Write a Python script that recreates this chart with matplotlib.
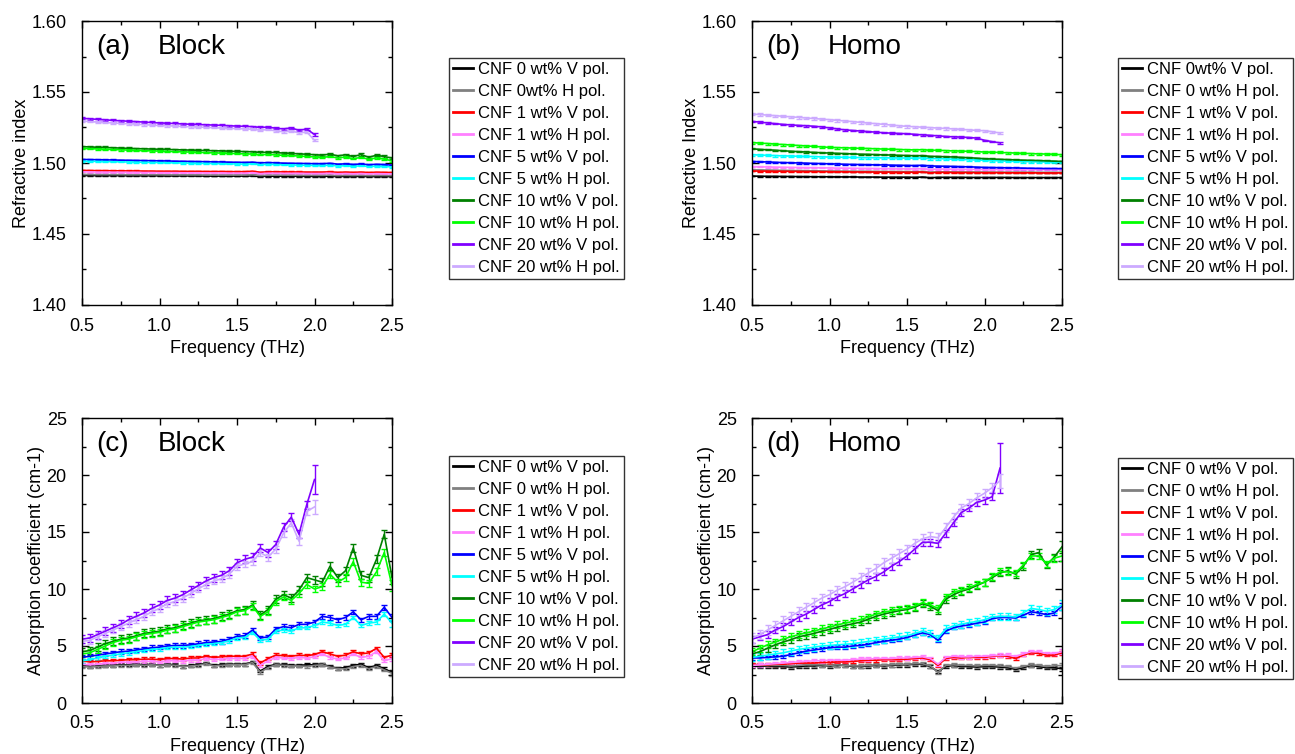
import matplotlib
matplotlib.use('Agg')
import matplotlib.pyplot as plt
from matplotlib.ticker import MultipleLocator, FormatStrFormatter

plt.rcParams['font.family'] = ['Liberation Sans', 'DejaVu Sans']

# %% data

freq = [0.50, 0.55, 0.60, 0.65, 0.70, 0.75, 0.80, 0.85, 0.90, 0.95,
        1.00, 1.05, 1.10, 1.15, 1.20, 1.25, 1.30, 1.35, 1.40, 1.45,
        1.50, 1.55, 1.60, 1.65, 1.70, 1.75, 1.80, 1.85, 1.90, 1.95,
        2.00, 2.05, 2.10, 2.15, 2.20, 2.25, 2.30, 2.35, 2.40, 2.45, 2.50]

colors = ['#000000', '#808080', '#ff0000', '#ff80ff', '#0000ff',
          '#00ffff', '#008000', '#00ff00', '#8000ff', '#ccaaff']

labels_a = ['CNF 0 wt% V pol.', 'CNF 0wt% H pol.', 'CNF 1 wt% V pol.', 'CNF 1 wt% H pol.',
            'CNF 5 wt% V pol.', 'CNF 5 wt% H pol.', 'CNF 10 wt% V pol.', 'CNF 10 wt% H pol.',
            'CNF 20 wt% V pol.', 'CNF 20 wt% H pol.']
labels_b = ['CNF 0wt% V pol.', 'CNF 0 wt% H pol.', 'CNF 1 wt% V pol.', 'CNF 1 wt% H pol.',
            'CNF 5 wt% V pol.', 'CNF 5 wt% H pol.', 'CNF 10 wt% V pol.', 'CNF 10 wt% H pol.',
            'CNF 20 wt% V pol.', 'CNF 20 wt% H pol.']
labels_cd = ['CNF 0 wt% V pol.', 'CNF 0 wt% H pol.', 'CNF 1 wt% V pol.', 'CNF 1 wt% H pol.',
             'CNF 5 wt% V pol.', 'CNF 5 wt% H pol.', 'CNF 10 wt% V pol.', 'CNF 10 wt% H pol.',
             'CNF 20 wt% V pol.', 'CNF 20 wt% H pol.']

# refractive index, block samples
n_blk_0V = [1.4912, 1.4912, 1.4911, 1.4911, 1.4911, 1.4911, 1.4910, 1.4910, 1.4910, 1.4910, 1.4910, 1.4909, 1.4909, 1.4909, 1.4909, 1.4909, 1.4908, 1.4908, 1.4908, 1.4908, 1.4908, 1.4908, 1.4909, 1.4905, 1.4907, 1.4907, 1.4907, 1.4907, 1.4906, 1.4906, 1.4906, 1.4906, 1.4907, 1.4904, 1.4906, 1.4905, 1.4906, 1.4904, 1.4905, 1.4905, 1.4904]
n_blk_0H = [1.4919, 1.4919, 1.4918, 1.4918, 1.4918, 1.4918, 1.4917, 1.4917, 1.4917, 1.4917, 1.4917, 1.4916, 1.4916, 1.4916, 1.4916, 1.4916, 1.4915, 1.4915, 1.4915, 1.4915, 1.4915, 1.4915, 1.4917, 1.4912, 1.4914, 1.4914, 1.4914, 1.4914, 1.4913, 1.4913, 1.4913, 1.4913, 1.4914, 1.4911, 1.4913, 1.4912, 1.4913, 1.4911, 1.4912, 1.4912, 1.4911]
n_blk_1V = [1.4948, 1.4947, 1.4946, 1.4946, 1.4945, 1.4945, 1.4944, 1.4944, 1.4943, 1.4943, 1.4942, 1.4942, 1.4942, 1.4941, 1.4941, 1.4941, 1.4940, 1.4940, 1.4940, 1.4939, 1.4939, 1.4939, 1.4942, 1.4935, 1.4938, 1.4938, 1.4937, 1.4937, 1.4937, 1.4936, 1.4936, 1.4936, 1.4938, 1.4934, 1.4936, 1.4934, 1.4936, 1.4933, 1.4935, 1.4934, 1.4933]
n_blk_1H = [1.4938, 1.4937, 1.4936, 1.4936, 1.4935, 1.4935, 1.4934, 1.4934, 1.4933, 1.4933, 1.4932, 1.4932, 1.4932, 1.4931, 1.4931, 1.4931, 1.4930, 1.4930, 1.4930, 1.4929, 1.4929, 1.4929, 1.4932, 1.4925, 1.4928, 1.4928, 1.4927, 1.4927, 1.4927, 1.4926, 1.4926, 1.4926, 1.4928, 1.4924, 1.4926, 1.4924, 1.4926, 1.4923, 1.4925, 1.4924, 1.4923]
n_blk_5V = [1.5025, 1.5024, 1.5023, 1.5022, 1.5021, 1.5020, 1.5019, 1.5018, 1.5017, 1.5016, 1.5015, 1.5014, 1.5013, 1.5012, 1.5011, 1.5010, 1.5009, 1.5008, 1.5007, 1.5006, 1.5005, 1.5004, 1.5006, 1.5000, 1.5003, 1.5001, 1.4999, 1.4998, 1.4997, 1.4996, 1.4995, 1.4995, 1.4998, 1.4992, 1.4994, 1.4990, 1.4993, 1.4988, 1.4991, 1.4989, 1.4985]
n_blk_5H = [1.5013, 1.5012, 1.5011, 1.5010, 1.5009, 1.5008, 1.5007, 1.5006, 1.5005, 1.5004, 1.5003, 1.5002, 1.5001, 1.5000, 1.4999, 1.4998, 1.4997, 1.4996, 1.4995, 1.4994, 1.4993, 1.4992, 1.4994, 1.4988, 1.4991, 1.4989, 1.4987, 1.4986, 1.4985, 1.4984, 1.4983, 1.4982, 1.4985, 1.4979, 1.4981, 1.4977, 1.4980, 1.4975, 1.4978, 1.4976, 1.4972]
n_blk_10V = [1.5115, 1.5113, 1.5111, 1.5109, 1.5107, 1.5105, 1.5103, 1.5101, 1.5100, 1.5098, 1.5097, 1.5095, 1.5094, 1.5092, 1.5091, 1.5089, 1.5088, 1.5086, 1.5085, 1.5083, 1.5082, 1.5080, 1.5079, 1.5074, 1.5076, 1.5073, 1.5070, 1.5068, 1.5064, 1.5062, 1.5058, 1.5055, 1.5063, 1.5050, 1.5058, 1.5045, 1.5060, 1.5040, 1.5055, 1.5045, 1.5035]
n_blk_10H = [1.5103, 1.5101, 1.5099, 1.5097, 1.5095, 1.5093, 1.5091, 1.5089, 1.5087, 1.5085, 1.5084, 1.5082, 1.5080, 1.5078, 1.5077, 1.5075, 1.5073, 1.5071, 1.5070, 1.5068, 1.5066, 1.5064, 1.5063, 1.5058, 1.5061, 1.5057, 1.5054, 1.5052, 1.5049, 1.5046, 1.5043, 1.5040, 1.5045, 1.5036, 1.5042, 1.5030, 1.5040, 1.5026, 1.5036, 1.5028, 1.5015]
n_blk_20V = [1.5315, 1.5311, 1.5307, 1.5304, 1.5300, 1.5297, 1.5294, 1.5291, 1.5288, 1.5285, 1.5282, 1.5280, 1.5278, 1.5275, 1.5273, 1.5271, 1.5269, 1.5267, 1.5265, 1.5262, 1.5260, 1.5258, 1.5256, 1.5250, 1.5253, 1.5245, 1.5240, 1.5247, 1.5230, 1.5240, 1.5200]
n_blk_20H = [1.5295, 1.5292, 1.5288, 1.5285, 1.5282, 1.5279, 1.5276, 1.5273, 1.5270, 1.5267, 1.5264, 1.5262, 1.5260, 1.5257, 1.5255, 1.5253, 1.5251, 1.5249, 1.5246, 1.5244, 1.5242, 1.5240, 1.5238, 1.5232, 1.5235, 1.5226, 1.5220, 1.5226, 1.5212, 1.5218, 1.5160]
n_blk_err = [0.0003, 0.0003, 0.0004, 0.0004, 0.0004, 0.0004, 0.0008, 0.0005, 0.0008, 0.0006]

# refractive index, homogeneous samples
n_hom_0V = [1.4908, 1.4907, 1.4906, 1.4906, 1.4905, 1.4905, 1.4904, 1.4904, 1.4903, 1.4903, 1.4903, 1.4902, 1.4902, 1.4902, 1.4901, 1.4901, 1.4901, 1.4900, 1.4900, 1.4900, 1.4900, 1.4899, 1.4901, 1.4896, 1.4899, 1.4899, 1.4899, 1.4899, 1.4898, 1.4898, 1.4898, 1.4898, 1.4898, 1.4898, 1.4897, 1.4897, 1.4897, 1.4897, 1.4897, 1.4897, 1.4897]
n_hom_0H = [1.4952, 1.4951, 1.4950, 1.4949, 1.4948, 1.4947, 1.4946, 1.4945, 1.4945, 1.4944, 1.4943, 1.4943, 1.4942, 1.4942, 1.4941, 1.4941, 1.4940, 1.4940, 1.4939, 1.4939, 1.4939, 1.4938, 1.4940, 1.4935, 1.4937, 1.4937, 1.4937, 1.4936, 1.4936, 1.4936, 1.4936, 1.4935, 1.4935, 1.4935, 1.4935, 1.4935, 1.4935, 1.4934, 1.4934, 1.4934, 1.4934]
n_hom_1V = [1.4944, 1.4943, 1.4943, 1.4942, 1.4942, 1.4941, 1.4941, 1.4940, 1.4940, 1.4939, 1.4939, 1.4938, 1.4938, 1.4937, 1.4937, 1.4937, 1.4936, 1.4936, 1.4936, 1.4935, 1.4935, 1.4935, 1.4937, 1.4931, 1.4934, 1.4934, 1.4933, 1.4933, 1.4933, 1.4932, 1.4932, 1.4932, 1.4932, 1.4931, 1.4931, 1.4931, 1.4931, 1.4930, 1.4930, 1.4930, 1.4930]
n_hom_1H = [1.4974, 1.4973, 1.4972, 1.4971, 1.4970, 1.4969, 1.4968, 1.4967, 1.4967, 1.4966, 1.4965, 1.4964, 1.4964, 1.4963, 1.4962, 1.4962, 1.4961, 1.4960, 1.4960, 1.4959, 1.4959, 1.4958, 1.4960, 1.4955, 1.4957, 1.4957, 1.4956, 1.4956, 1.4955, 1.4955, 1.4954, 1.4954, 1.4954, 1.4953, 1.4953, 1.4953, 1.4953, 1.4953, 1.4953, 1.4953, 1.4953]
n_hom_5V = [1.5011, 1.5009, 1.5007, 1.5005, 1.5003, 1.5002, 1.5000, 1.4999, 1.4997, 1.4996, 1.4994, 1.4993, 1.4991, 1.4990, 1.4989, 1.4988, 1.4987, 1.4986, 1.4985, 1.4984, 1.4983, 1.4982, 1.4984, 1.4979, 1.4978, 1.4977, 1.4976, 1.4974, 1.4973, 1.4971, 1.4969, 1.4968, 1.4967, 1.4966, 1.4965, 1.4964, 1.4963, 1.4962, 1.4961, 1.4961, 1.4960]
n_hom_5H = [1.5058, 1.5056, 1.5054, 1.5052, 1.5050, 1.5049, 1.5047, 1.5046, 1.5045, 1.5043, 1.5042, 1.5041, 1.5040, 1.5039, 1.5038, 1.5037, 1.5037, 1.5036, 1.5036, 1.5035, 1.5035, 1.5034, 1.5036, 1.5031, 1.5031, 1.5029, 1.5027, 1.5025, 1.5023, 1.5021, 1.5019, 1.5017, 1.5015, 1.5013, 1.5011, 1.5010, 1.5009, 1.5008, 1.5007, 1.5006, 1.5004]
n_hom_10V = [1.5100, 1.5096, 1.5093, 1.5090, 1.5086, 1.5083, 1.5080, 1.5077, 1.5075, 1.5072, 1.5070, 1.5068, 1.5066, 1.5064, 1.5062, 1.5061, 1.5059, 1.5057, 1.5056, 1.5054, 1.5053, 1.5051, 1.5052, 1.5047, 1.5046, 1.5044, 1.5042, 1.5040, 1.5037, 1.5034, 1.5030, 1.5028, 1.5026, 1.5024, 1.5022, 1.5020, 1.5019, 1.5017, 1.5015, 1.5013, 1.5011]
n_hom_10H = [1.5144, 1.5140, 1.5137, 1.5133, 1.5130, 1.5127, 1.5123, 1.5120, 1.5117, 1.5113, 1.5110, 1.5108, 1.5107, 1.5105, 1.5103, 1.5102, 1.5100, 1.5098, 1.5097, 1.5095, 1.5093, 1.5092, 1.5094, 1.5089, 1.5090, 1.5087, 1.5085, 1.5084, 1.5082, 1.5080, 1.5077, 1.5076, 1.5074, 1.5072, 1.5070, 1.5068, 1.5066, 1.5064, 1.5063, 1.5061, 1.5058]
n_hom_20V = [1.5293, 1.5288, 1.5282, 1.5277, 1.5272, 1.5268, 1.5265, 1.5262, 1.5259, 1.5254, 1.5247, 1.5240, 1.5233, 1.5229, 1.5225, 1.5221, 1.5217, 1.5213, 1.5210, 1.5208, 1.5206, 1.5202, 1.5198, 1.5195, 1.5191, 1.5187, 1.5184, 1.5182, 1.5180, 1.5175, 1.5160, 1.5150, 1.5142]
n_hom_20H = [1.5345, 1.5341, 1.5337, 1.5333, 1.5329, 1.5325, 1.5321, 1.5317, 1.5313, 1.5309, 1.5305, 1.5300, 1.5296, 1.5291, 1.5286, 1.5281, 1.5277, 1.5272, 1.5267, 1.5262, 1.5258, 1.5255, 1.5252, 1.5249, 1.5246, 1.5243, 1.5240, 1.5237, 1.5233, 1.5230, 1.5227, 1.5220, 1.5211]
n_hom_err = [0.0003, 0.0003, 0.0003, 0.0004, 0.0004, 0.0007, 0.0004, 0.0007, 0.0005, 0.0008]

# absorption coefficient (cm-1), block samples
a_blk_0V = [3.3, 3.2, 3.25, 3.3, 3.3, 3.35, 3.35, 3.4, 3.35, 3.4, 3.3, 3.4, 3.35, 3.2, 3.3, 3.35, 3.5, 3.3, 3.35, 3.4, 3.4, 3.4, 3.6, 2.8, 3.2, 3.4, 3.35, 3.3, 3.3, 3.35, 3.35, 3.4, 3.2, 3.05, 3.1, 3.3, 3.4, 3.1, 3.3, 3.0, 2.7]
a_blk_0H = [3.2, 3.15, 3.2, 3.25, 3.25, 3.3, 3.3, 3.35, 3.3, 3.35, 3.3, 3.35, 3.3, 3.2, 3.25, 3.3, 3.45, 3.25, 3.3, 3.35, 3.35, 3.35, 3.55, 2.7, 3.1, 3.35, 3.3, 3.25, 3.25, 3.2, 3.3, 3.35, 3.15, 3.0, 3.0, 3.2, 3.3, 3.0, 3.2, 2.9, 2.6]
a_blk_1V = [3.7, 3.6, 3.65, 3.7, 3.7, 3.75, 3.8, 3.8, 3.85, 3.85, 3.8, 3.9, 3.9, 3.85, 3.95, 3.95, 4.1, 4.0, 4.05, 4.1, 4.1, 4.1, 4.3, 3.5, 3.9, 4.2, 4.15, 4.1, 4.2, 4.15, 4.25, 4.5, 4.3, 4.1, 4.2, 4.5, 4.3, 4.4, 4.8, 4.0, 4.2]
a_blk_1H = [3.4, 3.35, 3.4, 3.45, 3.5, 3.55, 3.6, 3.6, 3.65, 3.65, 3.6, 3.7, 3.7, 3.65, 3.75, 3.75, 3.9, 3.8, 3.85, 3.9, 3.9, 3.9, 4.1, 3.3, 3.7, 4.0, 3.95, 3.9, 4.0, 3.95, 4.05, 4.3, 4.0, 3.85, 3.95, 4.3, 4.0, 4.1, 4.5, 3.7, 3.9]
a_blk_5V = [4.0, 4.1, 4.2, 4.3, 4.4, 4.5, 4.55, 4.65, 4.75, 4.85, 4.9, 5.0, 5.05, 5.05, 5.1, 5.2, 5.3, 5.35, 5.4, 5.6, 5.85, 5.9, 6.4, 5.7, 5.8, 6.5, 6.7, 6.6, 6.9, 6.9, 7.1, 7.6, 7.5, 7.3, 7.5, 8.0, 7.3, 7.6, 7.6, 8.4, 7.5]
a_blk_5H = [3.7, 3.8, 3.95, 4.1, 4.2, 4.3, 4.4, 4.5, 4.6, 4.7, 4.75, 4.85, 4.9, 4.9, 4.95, 5.05, 5.15, 5.2, 5.3, 5.45, 5.7, 5.75, 6.2, 5.5, 5.6, 6.3, 6.4, 6.3, 6.6, 6.6, 6.8, 7.1, 7.0, 6.8, 6.9, 7.5, 6.8, 7.0, 7.1, 7.8, 7.0]
a_blk_10V = [4.5, 4.6, 4.9, 5.2, 5.4, 5.6, 5.7, 5.9, 6.1, 6.2, 6.3, 6.5, 6.6, 6.8, 7.0, 7.2, 7.3, 7.4, 7.6, 7.8, 8.1, 8.2, 8.6, 7.7, 8.2, 9.1, 9.5, 9.2, 9.9, 11.0, 10.8, 10.6, 12.0, 11.0, 11.6, 13.6, 11.2, 11.0, 12.6, 14.8, 11.0]
a_blk_10H = [4.3, 4.4, 4.7, 5.0, 5.3, 5.5, 5.6, 5.8, 6.0, 6.1, 6.2, 6.4, 6.5, 6.7, 6.9, 7.1, 7.2, 7.3, 7.5, 7.7, 8.0, 8.1, 8.5, 7.6, 8.0, 8.9, 9.3, 9.0, 9.6, 10.4, 10.0, 10.2, 11.3, 10.6, 11.0, 12.4, 10.6, 10.5, 11.5, 13.2, 10.3]
a_blk_20V = [5.6, 5.7, 6.0, 6.3, 6.6, 6.9, 7.3, 7.6, 7.9, 8.3, 8.6, 9.0, 9.2, 9.5, 9.9, 10.3, 10.7, 11.0, 11.2, 11.6, 12.3, 12.6, 12.8, 13.6, 13.2, 13.9, 15.4, 16.3, 14.8, 17.4, 19.6]
a_blk_20H = [5.4, 5.5, 5.8, 6.1, 6.4, 6.7, 7.0, 7.3, 7.6, 8.0, 8.3, 8.7, 8.9, 9.2, 9.6, 10.0, 10.4, 10.7, 10.9, 11.3, 12.0, 12.2, 12.4, 13.2, 12.8, 13.5, 14.9, 15.8, 14.2, 16.8, 17.2]
a_blk_err = [0.12, 0.12, 0.15, 0.12, 0.2, 0.15, 0.35, 0.3, 0.35, 0.3]
a_blk_err_end = [0.2, 0.2, 0.2, 0.2, 0.3, 0.3, 0.6, 0.5, 1.3, 0.6]

# absorption coefficient (cm-1), homogeneous samples
a_hom_0V = [3.25, 3.2, 3.25, 3.2, 3.2, 3.15, 3.2, 3.25, 3.25, 3.3, 3.25, 3.3, 3.3, 3.2, 3.2, 3.25, 3.3, 3.25, 3.3, 3.35, 3.35, 3.4, 3.4, 3.2, 2.75, 3.2, 3.3, 3.2, 3.2, 3.15, 3.2, 3.2, 3.15, 3.1, 2.95, 3.1, 3.3, 3.2, 3.1, 3.1, 3.0]
a_hom_0H = [3.35, 3.3, 3.3, 3.3, 3.3, 3.25, 3.3, 3.35, 3.35, 3.35, 3.3, 3.35, 3.3, 3.25, 3.25, 3.3, 3.35, 3.3, 3.35, 3.4, 3.4, 3.45, 3.45, 3.25, 2.7, 3.3, 3.35, 3.3, 3.3, 3.25, 3.3, 3.3, 3.25, 3.2, 3.05, 3.2, 3.35, 3.3, 3.2, 3.25, 3.3]
a_hom_1V = [3.4, 3.35, 3.35, 3.4, 3.4, 3.45, 3.5, 3.5, 3.5, 3.55, 3.55, 3.6, 3.6, 3.65, 3.7, 3.75, 3.75, 3.8, 3.8, 3.8, 3.85, 3.9, 3.95, 3.8, 3.3, 3.9, 4.0, 3.95, 4.0, 4.0, 4.0, 4.1, 4.15, 4.1, 3.9, 4.2, 4.4, 4.35, 4.2, 4.2, 4.4]
a_hom_1H = [3.3, 3.35, 3.4, 3.45, 3.5, 3.55, 3.6, 3.65, 3.7, 3.7, 3.75, 3.75, 3.75, 3.8, 3.85, 3.85, 3.9, 3.9, 3.9, 3.95, 3.95, 4.0, 4.05, 3.9, 3.4, 4.0, 4.1, 4.05, 4.05, 4.1, 4.1, 4.15, 4.2, 4.2, 4.1, 4.3, 4.5, 4.5, 4.35, 4.35, 4.5]
a_hom_5V = [3.95, 3.95, 4.0, 4.05, 4.1, 4.25, 4.4, 4.55, 4.65, 4.75, 4.85, 4.9, 4.9, 5.0, 5.05, 5.15, 5.3, 5.4, 5.5, 5.6, 5.75, 5.95, 6.15, 6.0, 5.5, 6.3, 6.6, 6.75, 6.85, 7.0, 7.1, 7.4, 7.5, 7.5, 7.45, 7.7, 8.0, 7.9, 7.75, 7.9, 8.5]
a_hom_5H = [4.0, 4.1, 4.2, 4.3, 4.4, 4.55, 4.7, 4.8, 4.9, 5.0, 5.05, 5.1, 5.15, 5.2, 5.3, 5.4, 5.5, 5.6, 5.7, 5.8, 5.9, 6.1, 6.3, 6.1, 5.7, 6.5, 6.75, 6.9, 7.05, 7.15, 7.3, 7.55, 7.6, 7.6, 7.55, 7.9, 8.3, 8.2, 8.05, 8.2, 8.6]
a_hom_10V = [4.3, 4.5, 4.8, 5.1, 5.35, 5.55, 5.8, 5.95, 6.1, 6.3, 6.45, 6.65, 6.8, 6.95, 7.1, 7.35, 7.6, 7.8, 7.95, 8.1, 8.2, 8.4, 8.7, 8.5, 8.1, 9.1, 9.5, 9.8, 10.0, 10.3, 10.6, 11.0, 11.4, 11.6, 11.3, 12.0, 13.0, 13.2, 12.1, 12.8, 13.7]
a_hom_10H = [4.5, 4.8, 5.1, 5.35, 5.6, 5.8, 6.0, 6.15, 6.3, 6.5, 6.65, 6.85, 7.0, 7.15, 7.3, 7.55, 7.8, 7.95, 8.1, 8.2, 8.3, 8.5, 8.8, 8.6, 8.3, 9.3, 9.7, 9.9, 10.1, 10.4, 10.6, 11.1, 11.5, 11.5, 11.4, 12.1, 12.9, 12.9, 12.2, 12.7, 12.9]
a_hom_20V = [5.6, 5.8, 6.0, 6.4, 6.7, 7.1, 7.5, 7.8, 8.2, 8.6, 8.9, 9.3, 9.6, 10.0, 10.4, 10.8, 11.1, 11.5, 12.0, 12.4, 12.9, 13.5, 14.1, 14.1, 14.0, 14.9, 15.8, 16.7, 17.1, 17.6, 17.8, 18.1, 20.6]
a_hom_20H = [5.7, 6.0, 6.4, 6.8, 7.2, 7.6, 8.0, 8.4, 8.8, 9.2, 9.5, 9.9, 10.2, 10.6, 11.0, 11.4, 11.8, 12.3, 12.7, 13.1, 13.5, 14.0, 14.4, 14.6, 14.5, 15.4, 16.3, 17.1, 17.5, 18.0, 18.4, 18.9, 19.5]
a_hom_err = [0.15, 0.15, 0.12, 0.15, 0.15, 0.3, 0.3, 0.3, 0.3, 0.4]
a_hom_err_end = [0.2, 0.2, 0.2, 0.2, 0.3, 0.4, 0.5, 0.4, 2.2, 0.6]

n_blk = [n_blk_0V, n_blk_0H, n_blk_1V, n_blk_1H, n_blk_5V, n_blk_5H, n_blk_10V, n_blk_10H, n_blk_20V, n_blk_20H]
n_hom = [n_hom_0V, n_hom_0H, n_hom_1V, n_hom_1H, n_hom_5V, n_hom_5H, n_hom_10V, n_hom_10H, n_hom_20V, n_hom_20H]
a_blk = [a_blk_0V, a_blk_0H, a_blk_1V, a_blk_1H, a_blk_5V, a_blk_5H, a_blk_10V, a_blk_10H, a_blk_20V, a_blk_20H]
a_hom = [a_hom_0V, a_hom_0H, a_hom_1V, a_hom_1H, a_hom_5V, a_hom_5H, a_hom_10V, a_hom_10H, a_hom_20V, a_hom_20H]

# %% figure

W, H = 1295, 754
fig = plt.figure(figsize=(W / 100, H / 100), dpi=100)


def px_axes(x0, y0, x1, y1):
    return fig.add_axes([x0 / W, 1 - y1 / H, (x1 - x0) / W, (y1 - y0) / H])


def style(ax, ylim, ymaj, ymin, ylabel, yfmt):
    ax.set_xlim(0.5, 2.5)
    ax.set_ylim(*ylim)
    ax.xaxis.set_major_locator(MultipleLocator(0.5))
    ax.xaxis.set_minor_locator(MultipleLocator(0.25))
    ax.yaxis.set_major_locator(MultipleLocator(ymaj))
    ax.yaxis.set_minor_locator(MultipleLocator(ymin))
    ax.xaxis.set_major_formatter(FormatStrFormatter('%.1f'))
    ax.yaxis.set_major_formatter(FormatStrFormatter(yfmt))
    ax.tick_params(which='both', direction='in', top=True, right=True, labelsize=13)
    ax.tick_params(axis='x', which='major', pad=9)
    ax.tick_params(axis='y', which='major', pad=11)
    ax.tick_params(which='major', length=5, width=1)
    ax.tick_params(which='minor', length=3, width=1)
    for s in ax.spines.values():
        s.set_linewidth(1)
    ax.set_xlabel('Frequency (THz)', fontsize=13, labelpad=4)
    ax.set_ylabel(ylabel, fontsize=13, labelpad=1)


def draw(ax, series, errs, errs_end, labels):
    for i, y in enumerate(series):
        x = freq[:len(y)]
        if errs_end is None:
            yerr = errs[i]
        else:
            yerr = [errs[i]] * (len(y) - 1) + [errs_end[i]]
        ax.errorbar(x, y, yerr=yerr, color=colors[i], lw=1.2, elinewidth=1,
                    capsize=2.5, capthick=1, label=labels[i])


def legend(ax, x0, y0):
    handles, labs = ax.get_legend_handles_labels()
    handles = [h[0] for h in handles]
    leg = fig.legend(handles, labs, loc='upper left', bbox_to_anchor=(x0 / W, 1 - y0 / H),
                     fontsize=12, frameon=True, fancybox=False, edgecolor='black',
                     handlelength=1.2, handletextpad=0.3, labelspacing=0.42,
                     borderpad=0.25, borderaxespad=0)
    leg.get_frame().set_linewidth(1)
    for line in leg.get_lines():
        line.set_linewidth(2)


def tag(ax, letter, name):
    ax.text(0.045, 0.91, letter, transform=ax.transAxes, fontsize=20, va='center')
    ax.text(0.245, 0.91, name, transform=ax.transAxes, fontsize=20, va='center')


ax_a = px_axes(82, 21, 392, 305)
ax_b = px_axes(752, 21, 1062, 305)
ax_c = px_axes(82, 418, 392, 703)
ax_d = px_axes(752, 418, 1062, 703)

draw(ax_a, n_blk, n_blk_err, None, labels_a)
style(ax_a, (1.40, 1.60), 0.05, 0.025, 'Refractive index', '%.2f')
tag(ax_a, '(a)', 'Block')
legend(ax_a, 449, 58)

draw(ax_b, n_hom, n_hom_err, None, labels_b)
style(ax_b, (1.40, 1.60), 0.05, 0.025, 'Refractive Index', '%.2f')
tag(ax_b, '(b)', 'Homo')
legend(ax_b, 1118, 58)

draw(ax_c, a_blk, a_blk_err, a_blk_err_end, labels_cd)
style(ax_c, (0, 25), 5, 2.5, 'Absorption coefficient (cm-1)', '%d')
tag(ax_c, '(c)', 'Block')
legend(ax_c, 449, 456)

draw(ax_d, a_hom, a_hom_err, a_hom_err_end, labels_cd)
style(ax_d, (0, 25), 5, 2.5, 'Absorption coefficient (cm-1)', '%d')
tag(ax_d, '(d)', 'Homo')
legend(ax_d, 1118, 458)

fig.savefig('out.png', dpi=100)
